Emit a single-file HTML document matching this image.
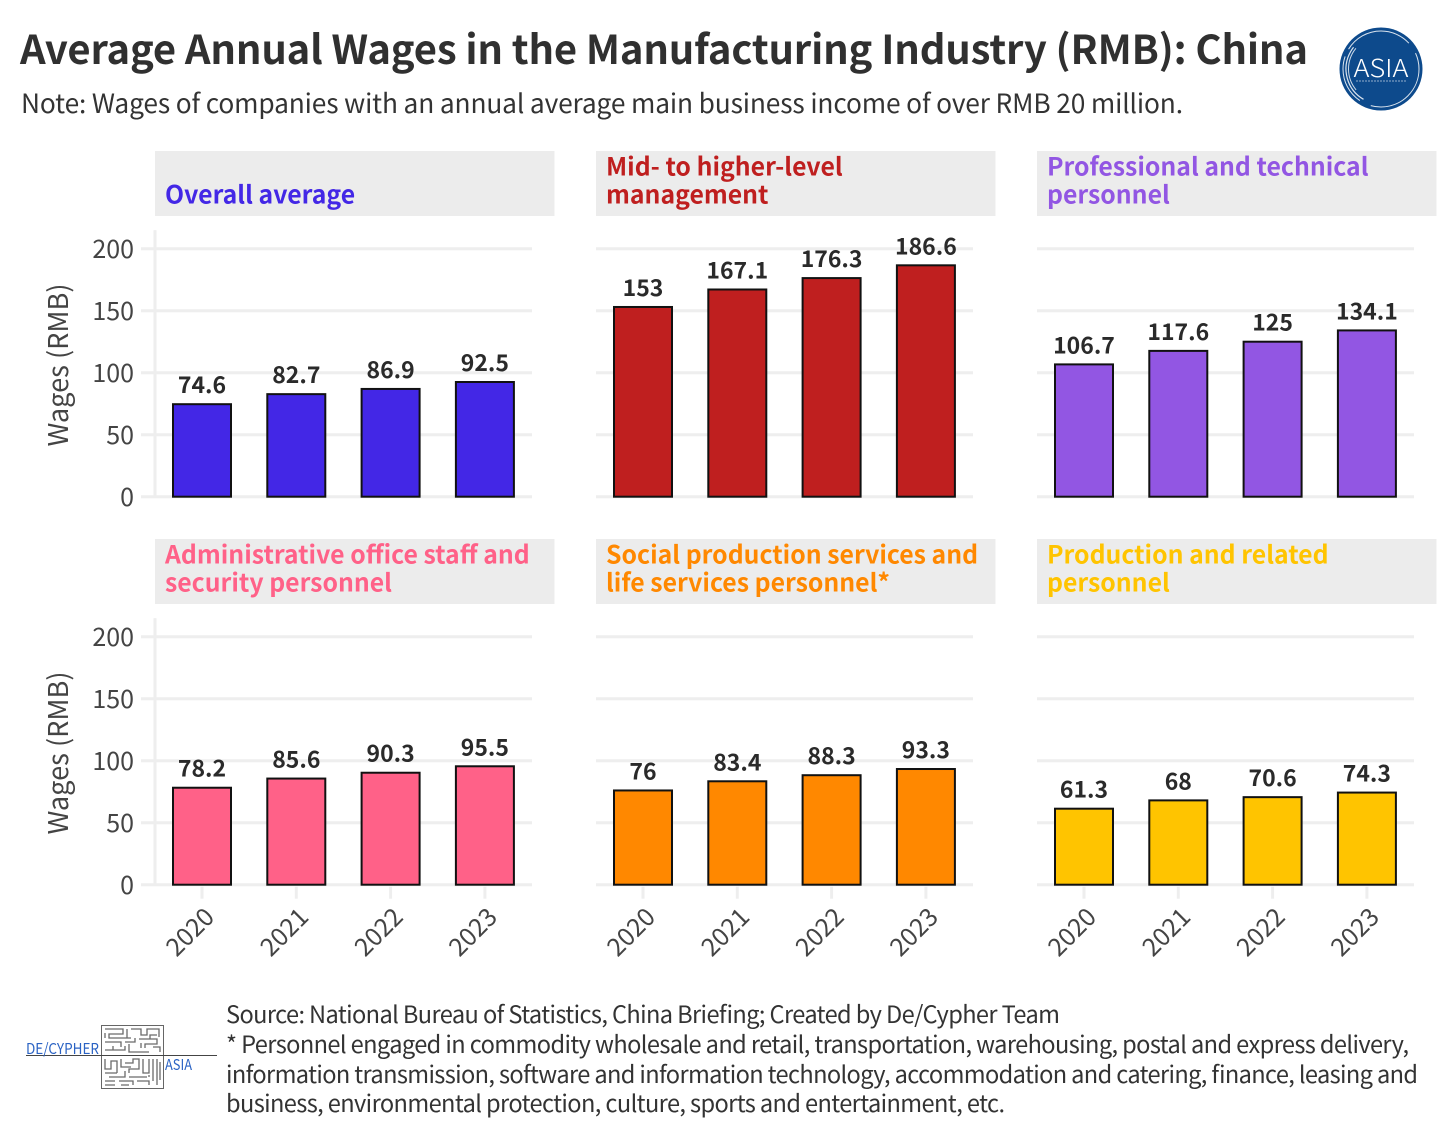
<!DOCTYPE html>
<html>
<head>
<meta charset="utf-8">
<style>
html,body{margin:0;padding:0;background:#fff;}
body{width:1456px;height:1138px;overflow:hidden;}
svg{display:block;font-family:"Noto Sans CJK SC","Liberation Sans",sans-serif;}
</style>
</head>
<body>
<svg id="chart" width="1456" height="1138" viewBox="0 0 1456 1138" xmlns="http://www.w3.org/2000/svg">
  <rect width="1456" height="1138" fill="#fff"/>
  <text x="20" y="64" font-size="40" font-weight="700" fill="#303030" textLength="1288" lengthAdjust="spacing">Average Annual Wages in the Manufacturing Industry (RMB): China</text>
  <text x="21" y="113" font-size="26.3" fill="#333" textLength="1162" lengthAdjust="spacing">Note: Wages of companies with an annual average main business income of over RMB 20 million.</text>
  <g>
    <circle cx="1381" cy="69" r="41.5" fill="#0d4a8c"/>
    <circle cx="1381" cy="69" r="38" fill="none" stroke="#fff" stroke-width="1" stroke-dasharray="70 12 50 8" opacity=".85"/>
    <circle cx="1381" cy="69" r="35" fill="none" stroke="#fff" stroke-width="1.2" stroke-dasharray="60 160" opacity=".85" transform="rotate(120 1381 69)"/>
    <circle cx="1381" cy="69" r="32.5" fill="none" stroke="#fff" stroke-width="1" stroke-dasharray="45 160" opacity=".8" transform="rotate(140 1381 69)"/>
    <text x="1381" y="77" font-size="25" font-weight="300" fill="#fff" text-anchor="middle" textLength="55" lengthAdjust="spacingAndGlyphs">ASIA</text>
    <line x1="1356" y1="81" x2="1406" y2="81" stroke="#fff" stroke-width="1" stroke-dasharray="2 1" opacity=".55"/>
  </g>
  <g id="panels"></g>
  <g>
    <rect x="101.5" y="1025.5" width="62" height="63" fill="#fff" stroke="#666" stroke-width="1"/>
    <path d="M105 1029h18v5h-14v4h22M127 1029v9M131 1029h10v6h6v-6h12v8M105 1042h16v5M125 1042h10v-4M139 1039h18v5h-12v4M105 1050h20v-4M129 1044v8h20M153 1047h7v5M105 1033v5M150 1039v-4h7M113 1046v4M141 1043v5M105 1059v10h6v-8h6v12M121 1059v8h10M125 1063h8v-4h6v10h-10v4M143 1059v14h6v-14M153 1059v22M157 1059v26M105 1073h12M109 1077h16v-6M129 1077h18M105 1081h10M119 1081h14v4M137 1081h12v4M105 1085h10M121 1085h8M149 1077v-2M160 1062v18" fill="none" stroke="#6a6a6a" stroke-width="1.3"/>
    <line x1="26" y1="1055.5" x2="217" y2="1055.5" stroke="#444" stroke-width="1"/>
    <text x="26" y="1054" font-size="15" fill="#2b63c4" textLength="73" lengthAdjust="spacingAndGlyphs">DE/CYPHER</text>
    <text x="165" y="1070" font-size="15" fill="#2b63c4" textLength="27" lengthAdjust="spacingAndGlyphs">ASIA</text>
  </g>
  <g font-size="23.6" fill="#333">
    <text x="226" y="1023" textLength="834" lengthAdjust="spacing">Source: National Bureau of Statistics, China Briefing; Created by De/Cypher Team</text>
    <text x="226" y="1053" textLength="1183" lengthAdjust="spacing">* Personnel engaged in commodity wholesale and retail, transportation, warehousing, postal and express delivery,</text>
    <text x="226" y="1083" textLength="1192" lengthAdjust="spacing">information transmission, software and information technology, accommodation and catering, finance, leasing and</text>
    <text x="226" y="1112" textLength="779" lengthAdjust="spacing">business, environmental protection, culture, sports and entertainment, etc.</text>
  </g>
</svg>
<script>
const categories = ["2020", "2021", "2022", "2023"];
const yTicks = [0, 50, 100, 150, 200];
const overallAverage = [74.6, 82.7, 86.9, 92.5];
const midHigherManagement = [153, 167.1, 176.3, 186.6];
const professionalTechnical = [106.7, 117.6, 125, 134.1];
const administrativeOffice = [78.2, 85.6, 90.3, 95.5];
const socialProductionServices = [76, 83.4, 88.3, 93.3];
const productionRelated = [61.3, 68, 70.6, 74.3];

const panels = [
  {key:"overall-average", col:0, row:0, color:"#4327e6", values:overallAverage, title:["", "Overall average"]},
  {key:"management", col:1, row:0, color:"#bf1f1f", values:midHigherManagement, title:["Mid- to higher-level", "management"]},
  {key:"professional", col:2, row:0, color:"#9256e3", values:professionalTechnical, title:["Professional and technical", "personnel"]},
  {key:"administrative", col:0, row:1, color:"#ff6188", values:administrativeOffice, title:["Administrative office staff and", "security personnel"]},
  {key:"social-services", col:1, row:1, color:"#ff8800", values:socialProductionServices, title:["Social production services and", "life services personnel*"]},
  {key:"production", col:2, row:1, color:"#ffc400", values:productionRelated, title:["Production and related", "personnel"]}
];

const NS = "http://www.w3.org/2000/svg";
const root = document.getElementById("panels");
const GRID = "#eeeeee";
function yScale(row, v) { return (row === 0 ? 496.7 : 884.7) - v * 1.24; }
function xScale(col, i) { return 202 + col * 441 + i * 94.3; }
function make(parent, tag, attrs, text) {
  const el = document.createElementNS(NS, tag);
  for (const k in attrs) el.setAttribute(k, attrs[k]);
  if (text !== undefined) el.textContent = text;
  parent.appendChild(el);
  return el;
}

panels.forEach(function (p) {
  const ox = p.col * 441;
  const oy = p.row * 388;
  const g = make(root, "g", {});
  
  

  const strip = make(g, "rect", {x:155 + ox, y:151 + oy, width:399.5, height:65, fill:"#ececec"});
  
  
  p.title.forEach(function (line, i) {
    if (!line) return;
    const t = make(g, "text", {x:165 + ox, y:175.5 + oy + i * 28, "font-size":24.8, "font-weight":700, fill:p.color}, line);
    
    
  });

  yTicks.forEach(function (tick) {
    const y = yScale(p.row, tick);
    const gl = make(g, "line", {x1:(p.col === 0 ? 141 : 155) + ox, x2:532 + ox, y1:y, y2:y, stroke:GRID, "stroke-width":3});
    
    
    if (p.col === 0) {
      const lbl = make(g, "text", {x:134, y:y + 9.5, "font-size":25, fill:"#444", "text-anchor":"end"}, String(tick));
      
      
    }
  });

  if (p.col === 0) {
    const axis = make(g, "line", {x1:155, x2:155, y1:yScale(p.row, 0) + 1, y2:yScale(p.row, 215), stroke:GRID, "stroke-width":3});
    
    
    const yt = 365 + oy;
    const title = make(g, "text", {x:68, y:yt, "font-size":27.2, fill:"#444", "text-anchor":"middle", transform:"rotate(-90 68 " + yt + ")"}, "Wages (RMB)");
    
    
  }

  categories.forEach(function (cat, i) {
    const cx = xScale(p.col, i);
    const top = yScale(p.row, p.values[i]);
    const base = yScale(p.row, 0);
    const bar = make(g, "rect", {x:cx - 29, y:top, width:58, height:base - top, fill:p.color, stroke:"#111", "stroke-width":2});
    
    
    const val = make(g, "text", {x:cx, y:top - 11, "font-size":23, "font-weight":700, fill:"#2a2a2a", "text-anchor":"middle"}, String(p.values[i]));
    
    
    if (p.row === 1) {
      const tk = make(g, "line", {x1:cx, x2:cx, y1:base + 2, y2:base + 14, stroke:GRID, "stroke-width":3});
      
      
      const tx = cx - 2;
      const ty = base + 18;
      const lab = make(g, "text", {x:tx, y:ty, "font-size":25, fill:"#444", "text-anchor":"end", "dominant-baseline":"hanging", transform:"rotate(-45 " + tx + " " + ty + ")"}, cat);
      
      
    }
  });
});
</script>
</body>
</html>
